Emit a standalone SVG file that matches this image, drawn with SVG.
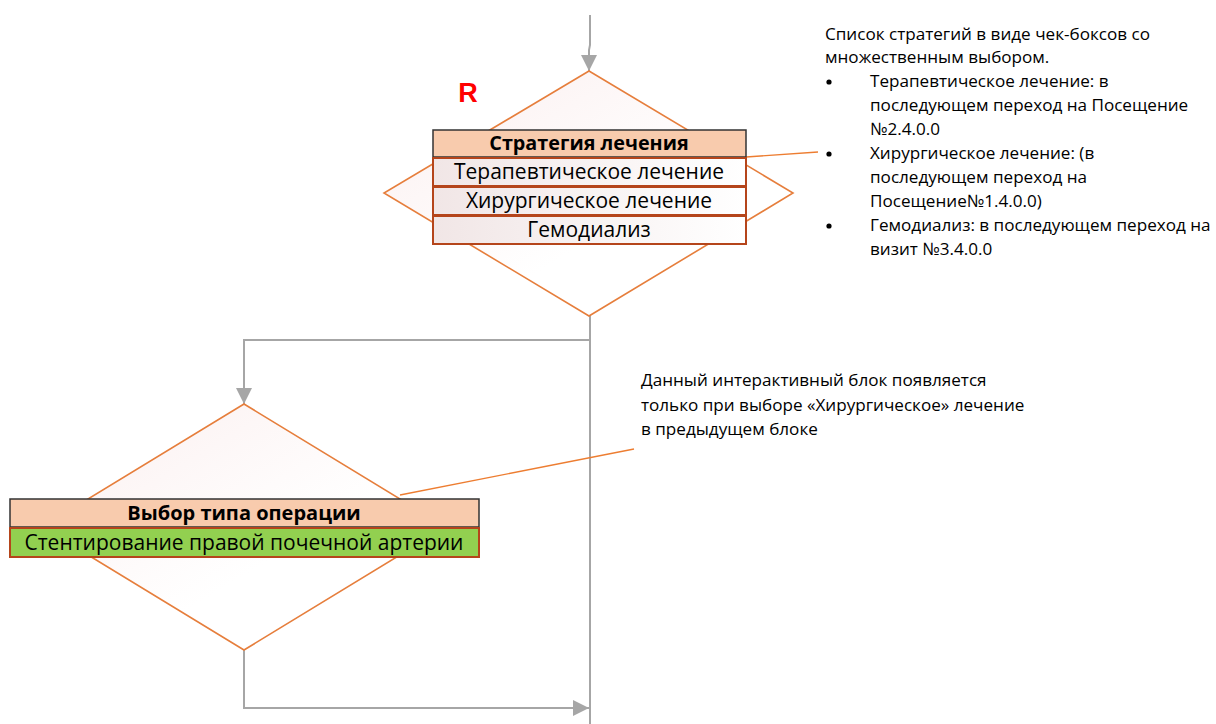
<svg xmlns="http://www.w3.org/2000/svg" width="1216" height="724" viewBox="0 0 1216 724">
<defs>
<linearGradient id="dg" x1="0" y1="0" x2="1" y2="1">
<stop offset="0" stop-color="#fbefef"/>
<stop offset="0.6" stop-color="#ffffff"/>
</linearGradient>
<linearGradient id="rg" x1="0" y1="0" x2="1" y2="0">
<stop offset="0" stop-color="#f1e6e6"/>
<stop offset="1" stop-color="#ffffff"/>
</linearGradient>
<marker id="ah2" viewBox="0 0 10 10" refX="10" refY="5" markerWidth="16" markerHeight="16" orient="auto" markerUnits="userSpaceOnUse">
<path d="M0,0 L10,5 L0,10 Z" fill="#a6a6a6"/>
</marker>
</defs>
<style>
.conn{fill:none;stroke:#a6a6a6;stroke-width:2}
.dia{fill:url(#dg);stroke:#e67e3c;stroke-width:1.6}
.call{fill:none;stroke:#ed7d31;stroke-width:1.3}
.hdr{fill:#f8cbad;stroke:#333333;stroke-width:1.5}
.row{fill:url(#rg);stroke:#b5451b;stroke-width:2}
.grn{fill:#92d050;stroke:#b5451b;stroke-width:2}
.t{font-family:"Open Sans","Liberation Sans",sans-serif;fill:#000}
.tb{font-family:"Open Sans","Liberation Sans",sans-serif;font-weight:bold;fill:#000}
.note{font-family:"Open Sans","Liberation Sans",sans-serif;font-size:17.1px;fill:#000}
</style>
<g id="connectors">
<polyline class="conn" points="590,15 590,45 589,50 589,71" marker-end="url(#ah2)"/>
<line class="conn" x1="590" y1="316" x2="590" y2="724"/>
<polyline class="conn" points="590,340 244,340 244,404" marker-end="url(#ah2)"/>
<polyline class="conn" points="244,650 244,708 589,708" marker-end="url(#ah2)"/>
<line class="call" x1="746" y1="157" x2="818" y2="152"/>
<line class="call" x1="400" y1="495" x2="634" y2="449"/>
</g>
<g id="node-strategy">
<polygon class="dia" points="589,71 793,193 589,316 384,193"/>
<rect class="hdr" x="433" y="130" width="313" height="27"/>
<rect class="row" x="433" y="158" width="313" height="28"/>
<rect class="row" x="433" y="187" width="313" height="28"/>
<rect class="row" x="433" y="216" width="313" height="28"/>
<text class="tb" x="589" y="150" font-size="19.8" text-anchor="middle">Стратегия лечения</text>
<text class="t" x="589" y="179" font-size="21" text-anchor="middle">Терапевтическое лечение</text>
<text class="t" x="589" y="208" font-size="21" text-anchor="middle">Хирургическое лечение</text>
<text class="t" x="589" y="237" font-size="21" text-anchor="middle">Гемодиализ</text>
</g>
<g id="label-r">
<text x="468" y="102" font-family="Liberation Sans,Arial,sans-serif" font-weight="bold" font-size="27" fill="#ff0000" text-anchor="middle">R</text>
</g>
<g id="node-operation">
<polygon class="dia" points="244,404 446,527 244,650 42,527"/>
<rect class="hdr" x="10" y="499" width="469" height="28"/>
<rect class="grn" x="10" y="528" width="469" height="29"/>
<text class="tb" x="244" y="520" font-size="20" text-anchor="middle">Выбор типа операции</text>
<text class="t" x="244" y="550" font-size="21" text-anchor="middle">Стентирование правой почечной артерии</text>
</g>
<g id="note-strategies" class="note">
<text x="825" y="40">Список стратегий в виде чек-боксов со</text>
<text x="825" y="63">множественным выбором.</text>
<circle cx="829" cy="82" r="2.6" fill="#000"/>
<text x="870" y="87">Терапевтическое лечение: в</text>
<text x="870" y="111">последующем переход на Посещение</text>
<text x="870" y="135">№2.4.0.0</text>
<circle cx="829" cy="154" r="2.6" fill="#000"/>
<text x="870" y="159">Хирургическое лечение: (в</text>
<text x="870" y="183">последующем переход на</text>
<text x="870" y="207">Посещение№1.4.0.0)</text>
<circle cx="829" cy="226" r="2.6" fill="#000"/>
<text x="870" y="231">Гемодиализ: в последующем переход на</text>
<text x="870" y="255">визит №3.4.0.0</text>
</g>
<g id="note-operation" class="note">
<text x="641" y="386">Данный интерактивный блок появляется</text>
<text x="641" y="411">только при выборе «Хирургическое» лечение</text>
<text x="641" y="435">в предыдущем блоке</text>
</g>
</svg>
